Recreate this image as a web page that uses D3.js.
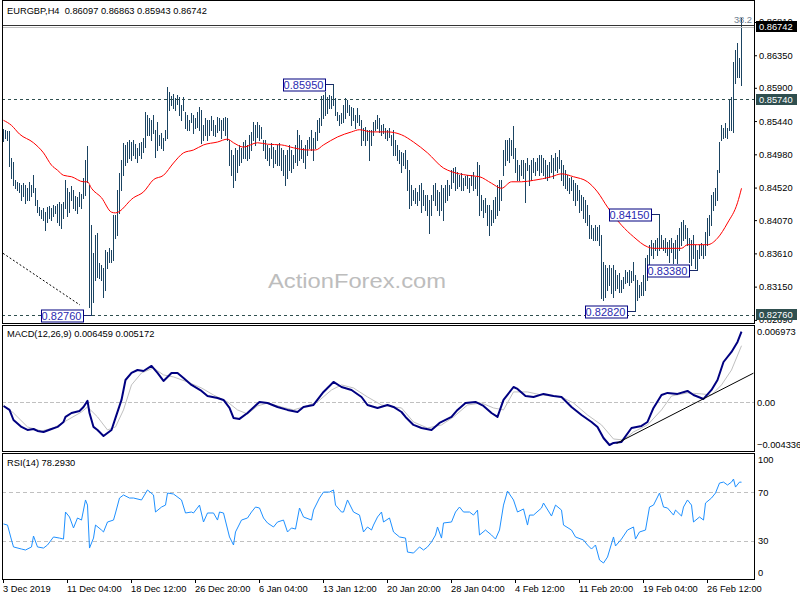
<!DOCTYPE html>
<html><head><meta charset="utf-8">
<script src="https://cdn.jsdelivr.net/npm/d3@7/dist/d3.min.js"></script>
<style>
html,body{margin:0;padding:0;background:#fff;}
svg{display:block;}
text{font-family:"Liberation Sans",Arial,sans-serif;}
</style></head><body>
<svg id="chart" width="800" height="600"></svg>
<script>
// ---------------- data ----------------
const symbolTitle = "EURGBP,H4";
const lastOHLC = ["0.86097", "0.86863", "0.85943", "0.86742"];
const lastClose = 0.86742;
// H4 bar highs / lows, in 1/10000 price units
const barHigh = [
8533,8532,8530,8530,8493,8487,8463,8460,8458,8456,
8458,8456,8451,8460,8456,8469,8451,8435,8425,8421,
8424,8418,8425,8427,8424,8428,8427,8429,8432,8429,
8432,8463,8451,8446,8454,8449,8440,8439,8446,8443,
8465,8490,8510,8456,8400,8362,8386,8389,8348,8345,
8341,8366,8363,8368,8366,8414,8414,8449,8472,8490,
8514,8511,8515,8518,8515,8518,8512,8507,8514,8515,
8521,8557,8552,8548,8545,8552,8532,8543,8525,8528,
8521,8532,8591,8584,8579,8581,8576,8580,8577,8566,
8577,8557,8552,8545,8555,8552,8548,8557,8563,8559,
8539,8548,8545,8545,8551,8545,8539,8550,8548,8545,
8548,8550,8548,8518,8504,8497,8507,8504,8511,8507,
8515,8518,8511,8525,8529,8543,8539,8543,8539,8536,
8518,8518,8511,8507,8514,8508,8504,8511,8514,8507,
8504,8497,8504,8511,8504,8497,8511,8532,8525,8518,
8507,8511,8518,8522,8532,8521,8529,8545,8548,8579,
8580,8584,8577,8580,8579,8595,8576,8557,8552,8555,
8566,8576,8573,8566,8563,8562,8552,8562,8552,8545,
8534,8536,8532,8532,8532,8543,8545,8552,8548,8539,
8540,8534,8532,8534,8525,8532,8518,8511,8504,8501,
8500,8504,8490,8476,8456,8449,8451,8446,8456,8458,
8449,8442,8442,8435,8442,8456,8458,8449,8446,8456,
8451,8456,8463,8456,8476,8479,8480,8474,8469,8472,
8465,8468,8469,8465,8469,8474,8467,8487,8483,8442,
8435,8438,8428,8428,8421,8435,8439,8456,8463,8463,
8504,8518,8518,8521,8518,8537,8507,8490,8483,8490,
8490,8486,8493,8483,8490,8493,8487,8493,8497,8497,
8493,8490,8483,8487,8497,8493,8500,8494,8504,8490,
8483,8476,8469,8465,8467,8463,8458,8456,8449,8442,
8439,8435,8428,8414,8400,8396,8400,8398,8400,8386,
8349,8345,8341,8345,8341,8345,8338,8331,8334,8324,
8328,8338,8335,8338,8337,8349,8331,8324,8317,8321,
8331,8355,8359,8373,8380,8375,8380,8382,8415,8386,
8380,8382,8377,8380,8382,8375,8380,8386,8396,8404,
8407,8400,8396,8382,8380,8386,8373,8366,8373,8375,
8373,8391,8410,8414,8442,8446,8451,8476,8515,8539,
8534,8541,8534,8573,8577,8626,8642,8652,8631,8686];
const barLow = [
8516,8521,8518,8482,8465,8456,8451,8449,8446,8435,
8440,8431,8435,8435,8440,8446,8428,8418,8414,8410,
8407,8393,8404,8410,8407,8413,8417,8404,8400,8396,
8410,8424,8413,8418,8435,8424,8421,8417,8427,8424,
8438,8442,8460,8287,8276,8294,8324,8328,8327,8324,
8301,8310,8341,8349,8349,8352,8382,8386,8417,8449,
8469,8483,8487,8493,8490,8497,8493,8487,8497,8493,
8501,8508,8525,8525,8518,8528,8494,8504,8511,8507,
8504,8518,8521,8559,8566,8562,8559,8568,8552,8545,
8559,8534,8532,8532,8543,8528,8534,8536,8532,8514,
8518,8525,8518,8525,8532,8525,8523,8529,8532,8521,
8532,8525,8518,8483,8469,8453,8463,8474,8483,8487,
8493,8493,8490,8493,8504,8518,8511,8522,8518,8521,
8504,8493,8490,8483,8493,8480,8486,8483,8483,8476,
8469,8456,8465,8476,8474,8479,8487,8483,8490,8493,
8487,8479,8497,8507,8504,8490,8507,8518,8529,8539,
8548,8552,8555,8562,8562,8566,8552,8545,8539,8541,
8543,8548,8557,8552,8539,8545,8534,8543,8539,8511,
8518,8511,8518,8490,8511,8525,8532,8534,8529,8525,
8527,8521,8518,8522,8511,8497,8497,8490,8486,8473,
8483,8479,8449,8424,8428,8435,8431,8428,8435,8418,
8428,8421,8414,8389,8414,8435,8428,8421,8414,8421,
8407,8432,8435,8442,8451,8460,8449,8451,8454,8449,
8449,8456,8451,8446,8456,8449,8451,8442,8414,8421,
8411,8418,8400,8386,8400,8404,8410,8414,8421,8435,
8469,8483,8490,8487,8497,8493,8474,8463,8463,8469,
8465,8432,8476,8456,8463,8474,8469,8476,8469,8474,
8469,8465,8463,8467,8474,8465,8476,8474,8479,8463,
8456,8451,8449,8445,8449,8435,8428,8435,8418,8421,
8410,8404,8400,8382,8382,8380,8380,8380,8373,8299,
8297,8301,8310,8317,8306,8301,8310,8313,8308,8308,
8313,8320,8321,8317,8321,8324,8282,8297,8301,8303,
8303,8310,8324,8345,8359,8355,8366,8359,8366,8368,
8366,8363,8359,8349,8363,8348,8355,8348,8366,8373,
8380,8382,8373,8349,8345,8355,8341,8338,8355,8359,
8355,8359,8373,8386,8400,8421,8428,8435,8473,8518,
8521,8522,8521,8532,8532,8529,8597,8605,8605,8594];
// moving average (red), [bar, 1/10000 price]
const maLine = [[0,8545],[4,8538],[8,8526],[15,8514],[20,8500],[24,8483],[27,8476],[30,8469],[34,8467],[40,8460],[42,8460],[44,8451],[49,8438],[54,8418],[56,8417],[65,8438],[70,8446],[75,8463],[80,8469],[85,8486],[90,8500],[95,8504],[100,8511],[107,8515],[112,8519],[115,8514],[120,8508],[127,8514],[132,8512],[139,8511],[145,8507],[152,8504],[156,8504],[160,8511],[167,8522],[174,8529],[178,8532],[184,8529],[192,8529],[199,8525],[205,8515],[212,8500],[220,8479],[224,8474],[232,8469],[238,8467],[244,8458],[249,8451],[254,8460],[259,8460],[265,8462],[274,8467],[279,8471],[285,8467],[292,8460],[297,8446],[302,8425],[309,8400],[315,8384],[322,8370],[325,8368],[332,8368],[339,8368],[342,8373],[347,8373],[352,8373],[357,8382],[362,8403],[367,8431],[369,8451]];
// MACD main and signal, [bar, value * 10000]
const macdMain = [[0,-3.2],[3,-6.8],[5,-16],[9,-22.3],[12,-25.1],[15,-24.2],[17,-26],[20,-26.9],[24,-24.2],[27,-22.3],[30,-17.8],[31,-13.2],[34,-9.6],[38,-7.8],[40,-4.1],[42,1.4],[43,-9.6],[45,-22.3],[47,-25.1],[50,-30.6],[54,-25.1],[56,-14.1],[59,2.3],[61,20.5],[64,26.9],[67,29.6],[70,28.7],[74,33.3],[77,26.9],[80,19.6],[84,26.9],[87,26.9],[90,22.3],[94,16],[99,10.5],[102,5.9],[107,4.1],[110,2.3],[113,-5],[115,-14.1],[118,-15],[122,-9.6],[128,0.5],[132,-0.5],[137,-4.1],[142,-6.8],[147,-8.7],[150,-4.1],[155,-2.3],[160,9.6],[165,18.7],[169,14.1],[174,11.4],[179,5],[182,-2.3],[187,-5],[192,-2.3],[195,-4.1],[199,-8.7],[201,-13.2],[205,-20.5],[209,-23.3],[214,-25.1],[218,-18.7],[224,-13.2],[227,-6.8],[231,-0.5],[236,0.5],[240,-3.2],[244,-9.6],[247,-13.2],[250,2.3],[255,14.1],[257,12.3],[261,5.9],[265,5],[270,7.8],[275,5.9],[279,5],[284,-4.1],[289,-11.4],[294,-17.8],[297,-22.3],[300,-32.4],[303,-38.8],[305,-36.9],[309,-36],[314,-23.3],[319,-21.4],[322,-17.8],[325,-5],[329,6.8],[332,8.7],[337,7.8],[342,10.5],[345,6.8],[350,3.2],[354,11.4],[357,20.5],[360,36.9],[364,46.1],[367,55.2],[369,64.59]];
const macdSignal = [[0,-2.3],[5,-9.6],[12,-22.3],[19,-26],[25,-23.3],[32,-16],[39,-8.7],[42,-4.1],[47,-13.2],[52,-25.1],[56,-22.3],[60,-6.8],[64,16],[69,26.9],[75,31.5],[80,25.1],[85,23.3],[92,18.7],[99,13.2],[105,6.8],[112,0.5],[117,-6.8],[122,-10.5],[127,-3.2],[132,-0.5],[139,-4.1],[145,-6.8],[150,-4.1],[157,0.5],[164,11.4],[169,16],[175,13.2],[182,5],[189,-2.3],[195,-4.1],[199,-5],[205,-17.8],[212,-23.3],[219,-20.5],[225,-13.2],[232,-2.3],[239,-0.5],[245,-5],[250,-6.8],[255,9.6],[262,9.6],[269,6.8],[279,5],[285,-0.5],[292,-11.4],[299,-20.5],[305,-33.3],[310,-34.2],[315,-26.9],[322,-20.5],[329,-6.8],[334,5.9],[342,8.7],[349,7.8],[354,6.8],[359,16],[364,29.6],[369,51.72]];
// RSI(14), [bar, value]
const rsiLine = [[0,44],[2,43.1],[4,30.8],[5,25.1],[9,23.4],[11,22.6],[14,25.1],[15,34.1],[17,25.1],[20,24.2],[22,26.7],[25,33.3],[28,32.4],[30,31.6],[31,53.8],[33,49.7],[35,40.7],[37,48.9],[39,47.2],[41,63.7],[42,59.5],[43,24.2],[45,32.4],[46,43.1],[49,39],[50,37.4],[52,45.6],[55,47.2],[56,53],[58,65.3],[60,67.8],[63,65.3],[65,65.3],[69,63.7],[72,71.9],[75,67.8],[76,53.8],[79,57.9],[81,59.5],[82,69.4],[85,68.6],[89,63.7],[91,53],[94,53.8],[95,53],[98,59.5],[100,45.6],[102,53],[105,53],[107,47.2],[108,53.8],[110,53],[113,33.3],[115,26.7],[116,37.4],[119,47.2],[122,48.9],[124,53.8],[126,57.9],[128,57.1],[130,48.9],[132,44.8],[135,41.5],[137,45.6],[140,47.2],[142,37.4],[144,40.7],[146,39.8],[148,57.1],[150,49.7],[154,47.2],[155,55.4],[158,65.3],[160,70.2],[163,70.2],[165,71.9],[166,59.5],[169,53.8],[170,53.8],[172,63.7],[175,53.8],[178,51.3],[180,37.4],[182,41.5],[184,39],[185,43.1],[187,49.7],[189,53.8],[190,45.6],[193,48.9],[195,37.4],[198,33.3],[201,32.4],[202,20.9],[205,20.1],[208,25.1],[210,22.6],[212,25.1],[214,29.2],[216,34.9],[217,41.5],[219,32.4],[220,44.8],[224,45.6],[226,53.8],[228,57.9],[230,53.8],[233,53.8],[235,51.3],[237,55.4],[238,34.9],[241,39],[244,34.9],[246,31.6],[248,39],[250,59.5],[252,71],[255,63.7],[257,53.8],[260,56.3],[262,43.1],[263,51.3],[265,51.3],[269,57.1],[270,61.2],[274,50.5],[276,59.5],[279,55.4],[280,43.1],[284,39],[286,33.3],[290,30.8],[292,26.7],[294,23.4],[296,26.7],[298,14.4],[300,11.9],[302,16.8],[305,33.3],[306,25.9],[309,31.6],[312,39],[315,41.5],[316,31.6],[318,37.4],[321,39],[323,57.9],[325,59.5],[328,69.4],[330,57.9],[332,57.1],[335,51.3],[336,55.4],[339,50.5],[340,57.9],[342,63.7],[344,59.5],[345,45.6],[348,49.7],[350,47.2],[351,61.2],[354,65.3],[356,69.4],[358,77.6],[360,78.4],[362,76],[364,78.4],[365,80.9],[366,74.3],[368,78.4],[369,78.293]];
const priceTicks = [0.86810,0.86350,0.85900,0.85440,0.84980,0.84520,0.84070,0.83610,0.83150,0.82690];
const macdTicks = [0.006973, 0, -0.004336];
const rsiTicks = [100, 70, 30, 0];
const rsiLevels = [70, 30];
const timeTickBars = [0,32,64,96,128,160,192,224,256,288,320,352];
const timeLabels = ["3 Dec 2019","11 Dec 04:00","18 Dec 12:00","26 Dec 20:00","6 Jan 04:00","13 Jan 12:00","20 Jan 20:00","28 Jan 04:00","4 Feb 12:00","11 Feb 20:00","19 Feb 04:00","26 Feb 12:00"];
const levelLines = [0.85740, 0.82760];
const pivotBars = [44, 165, 328, 347, 316];
const pivotPrices = [0.82760, 0.85950, 0.84150, 0.83380, 0.82820];
const fibLevel = 0.86767, fibLabel = "38.2";
const priceTrend = [[0, 0.83611], [38.5, 0.82896]];
const macdTrend = [[306.8, -0.00373], [375.2, 0.00267]];
const macdLabel = ["MACD(12,26,9)", "0.006459", "0.005172"];
const rsiLabel = ["RSI(14)", "78.2930"];
const watermark = "ActionForex.com";

// ---------------- layout ----------------
const FONT = '"Liberation Sans", Arial, sans-serif';
const L = 2, R = 754;
const P = {main: [0, 323], macd: [325, 451], rsi: [453, 579]};
const svg = d3.select("#chart");

const x = d3.scaleLinear().domain([0, 369]).range([3, 741]);
const yP = d3.scaleLinear().domain([0.82690, 0.86810]).range([319.9, 22.0]);
const yM = d3.scaleLinear().domain([-0.004336, 0.006973]).range([450, 326]);
const yR = d3.scaleLinear().domain([0, 100]).range([577.5, 455.8]);

svg.append("rect").attr("width", 800).attr("height", 600).attr("fill", "#fff");

const defs = svg.append("defs");
Object.entries(P).forEach(([k, [t, b]]) => {
  defs.append("clipPath").attr("id", "clip-" + k).append("rect")
    .attr("x", L + 1).attr("y", t + 1).attr("width", R - L - 1).attr("height", b - t - 1);
});

// ---------- main panel ----------
const gMain = svg.append("g").attr("clip-path", "url(#clip-main)");

// watermark
gMain.append("text").attr("x", 357).attr("y", 288).attr("text-anchor", "middle")
  .attr("font-size", 21).attr("fill", "#bdbdbd").attr("textLength", 178)
  .attr("lengthAdjust", "spacingAndGlyphs").style("font-family", FONT).text(watermark);

// bars
const idx = d3.range(barHigh.length);
gMain.selectAll("rect.bar").data(idx).join("rect").attr("class", "bar")
  .attr("x", i => Math.round(x(i)))
  .attr("y", i => Math.round(yP(barHigh[i] / 1e4)))
  .attr("width", 1)
  .attr("height", i => Math.max(1, Math.round(yP(barLow[i] / 1e4)) - Math.round(yP(barHigh[i] / 1e4)) + 1))
  .attr("fill", "#1b4462");

// moving average
gMain.append("path").datum(maLine)
  .attr("d", d3.line().x(d => x(d[0]) + 0.5).y(d => yP(d[1] / 1e4)).curve(d3.curveMonotoneX))
  .attr("fill", "none").attr("stroke", "#ff0000").attr("stroke-width", 1);

// horizontal dashed levels
gMain.selectAll("line.lvl").data(levelLines).join("line").attr("class", "lvl")
  .attr("x1", L).attr("x2", R).attr("y1", d => Math.round(yP(d)) + 0.5).attr("y2", d => Math.round(yP(d)) + 0.5)
  .attr("stroke", "#2f4f4f").attr("stroke-dasharray", "3,3");

// bid line
gMain.append("line").attr("x1", L).attr("x2", R)
  .attr("y1", Math.round(yP(lastClose)) + 0.5).attr("y2", Math.round(yP(lastClose)) + 0.5)
  .attr("stroke", "#c0c0c0");

// fib level
gMain.append("line").attr("x1", L).attr("x2", R)
  .attr("y1", Math.round(yP(fibLevel)) + 0.5).attr("y2", Math.round(yP(fibLevel)) + 0.5)
  .attr("stroke", "#333");
gMain.append("text").attr("x", 752).attr("y", Math.round(yP(fibLevel)) - 2).attr("text-anchor", "end")
  .attr("font-size", 9.3).attr("fill", "#708090").style("font-family", FONT).text(fibLabel);

// dotted trendline
gMain.append("line")
  .attr("x1", x(priceTrend[0][0])).attr("y1", yP(priceTrend[0][1]))
  .attr("x2", x(priceTrend[1][0])).attr("y2", yP(priceTrend[1][1]))
  .attr("stroke", "#000").attr("stroke-dasharray", "2,2");

// pivot labels
pivotBars.forEach((b, k) => {
  const bx = Math.round(x(b)) + 0.5, py = Math.round(yP(pivotPrices[k])) + 0.5;
  const bw = 42, bh = 12, right = bx - 9;
  gMain.append("line").attr("x1", right).attr("x2", bx).attr("y1", py).attr("y2", py).attr("stroke", "#1a2a6a");
  gMain.append("rect").attr("x", Math.round(right - bw) + 0.5).attr("y", Math.round(py - bh / 2))
    .attr("width", bw).attr("height", bh).attr("fill", "#fff").attr("stroke", "#000080");
  gMain.append("text").attr("x", right - bw / 2).attr("y", py + 4.2).attr("text-anchor", "middle")
    .attr("font-size", 11).attr("fill", "#2a2ab0").style("font-family", FONT)
    .text(d3.format(".5f")(pivotPrices[k]));
});

// ---------- MACD panel ----------
const gM = svg.append("g").attr("clip-path", "url(#clip-macd)");
gM.append("line").attr("x1", L).attr("x2", R).attr("y1", Math.round(yM(0)) + 0.5).attr("y2", Math.round(yM(0)) + 0.5)
  .attr("stroke", "#c0c0c0").attr("stroke-dasharray", "4,2");
gM.append("path").datum(macdSignal)
  .attr("d", d3.line().x(d => x(d[0]) + 0.5).y(d => yM(d[1] / 1e4)))
  .attr("fill", "none").attr("stroke", "#c0c0c0").attr("stroke-width", 1);
gM.append("path").datum(macdMain)
  .attr("d", d3.line().x(d => x(d[0]) + 0.5).y(d => yM(d[1] / 1e4)))
  .attr("fill", "none").attr("stroke", "#000080").attr("stroke-width", 2).attr("stroke-linejoin", "round");
gM.append("line")
  .attr("x1", x(macdTrend[0][0])).attr("y1", yM(macdTrend[0][1]))
  .attr("x2", x(macdTrend[1][0])).attr("y2", yM(macdTrend[1][1]))
  .attr("stroke", "#000").attr("stroke-width", 1);

// ---------- RSI panel ----------
const gR = svg.append("g").attr("clip-path", "url(#clip-rsi)");
gR.selectAll("line.rl").data(rsiLevels).join("line").attr("class", "rl")
  .attr("x1", L).attr("x2", R).attr("y1", d => Math.round(yR(d)) + 0.5).attr("y2", d => Math.round(yR(d)) + 0.5)
  .attr("stroke", "#c0c0c0").attr("stroke-dasharray", "4,3");
gR.append("path").datum(rsiLine)
  .attr("d", d3.line().x(d => x(d[0]) + 0.5).y(d => yR(d[1])))
  .attr("fill", "none").attr("stroke", "#1e90ff").attr("stroke-width", 1);

// ---------- frames ----------
Object.values(P).forEach(([t, b]) => {
  svg.append("rect").attr("x", L + 0.5).attr("y", t + 0.5).attr("width", R - L).attr("height", b - t)
    .attr("fill", "none").attr("stroke", "#000");
});

// ---------- axes ----------
function styleAxis(g) {
  g.select(".domain").remove();
  g.selectAll("text").attr("fill", "#000").style("font-family", FONT).style("font-size", "9.3px");
  g.selectAll(".tick line").attr("stroke", "#000");
}
function clampLabels(g, scale, top, bottom) {
  g.selectAll(".tick").each(function (d) {
    const y = scale(d);
    const cy = Math.max(top + 7, Math.min(bottom - 6.3, y));
    d3.select(this).select("text").attr("y", cy - y);
  });
}

const axP = svg.append("g").attr("transform", `translate(${R},0)`)
  .call(d3.axisRight(yP).tickValues(priceTicks).tickFormat(d3.format(".5f")).tickSize(3).tickPadding(2));
styleAxis(axP);

const axM = svg.append("g").attr("transform", `translate(${R},0)`)
  .call(d3.axisRight(yM).tickValues(macdTicks).tickFormat(d => d === 0 ? "0.00" : d3.format(".6f")(d)).tickSize(0).tickPadding(3));
styleAxis(axM); clampLabels(axM, yM, P.macd[0], P.macd[1]);

const axR = svg.append("g").attr("transform", `translate(${R},0)`)
  .call(d3.axisRight(yR).tickValues(rsiTicks).tickFormat(d3.format("d")).tickSize(0).tickPadding(4));
styleAxis(axR); clampLabels(axR, yR, P.rsi[0], P.rsi[1]);

const axX = svg.append("g").attr("transform", `translate(0,${P.rsi[1]})`)
  .call(d3.axisBottom(x).tickValues(timeTickBars).tickFormat((d, i) => timeLabels[i]).tickSize(4).tickPadding(0));
styleAxis(axX);
axX.selectAll("text").attr("text-anchor", "start").attr("dy", 0).attr("y", 13).attr("x", -0.5);

// price boxes on the axis
const boxes = [[lastClose, "#000"], [levelLines[0], "#2f4f4f"], [levelLines[1], "#2f4f4f"]];
boxes.forEach(([v, c]) => {
  const cy = yP(v);
  svg.append("rect").attr("x", 756).attr("y", Math.round(cy - 5.5)).attr("width", 41).attr("height", 11).attr("fill", c);
  svg.append("text").attr("x", 759).attr("y", Math.round(cy - 5.5) + 8.8).attr("fill", "#fff")
    .attr("font-size", 9.3).style("font-family", FONT).text(d3.format(".5f")(v));
});

// ---------- titles ----------
svg.append("text").attr("x", 7).attr("y", 14).attr("font-size", 9.3).attr("fill", "#000")
  .style("font-family", FONT).style("white-space", "pre")
  .text(symbolTitle + "  " + lastOHLC.join(" "));
svg.append("text").attr("x", 7).attr("y", 337).attr("font-size", 9.3).attr("fill", "#000")
  .style("font-family", FONT).text(macdLabel.join(" "));
svg.append("text").attr("x", 7).attr("y", 466).attr("font-size", 9.3).attr("fill", "#000")
  .style("font-family", FONT).text(rsiLabel.join(" "));
</script>
</body></html>
